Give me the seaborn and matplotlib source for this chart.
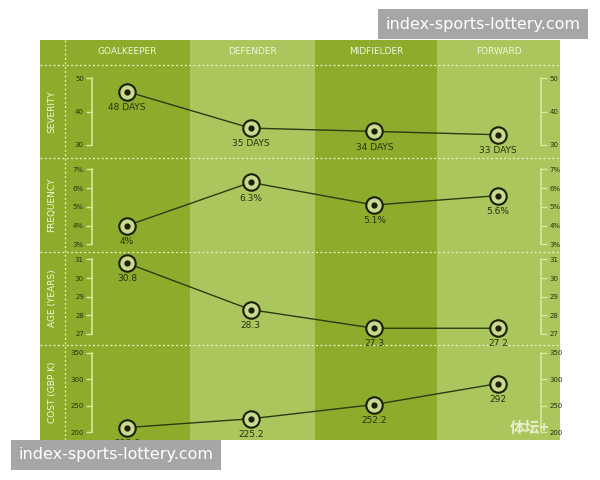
import matplotlib
matplotlib.use("Agg")
import matplotlib.pyplot as plt
import seaborn as sns
import pandas as pd

positions = ["GOALKEEPER", "DEFENDER", "MIDFIELDER", "FORWARD"]
row_names = ["SEVERITY", "FREQUENCY", "AGE (YEARS)", "COST (GBP K)"]
severity = [46, 35, 34, 33]
severity_labels = ["48 DAYS", "35 DAYS", "34 DAYS", "33 DAYS"]
frequency = [4.0, 6.3, 5.1, 5.6]
frequency_labels = ["4%", "6.3%", "5.1%", "5.6%"]
age = [30.8, 28.3, 27.3, 27.3]
age_labels = ["30.8", "28.3", "27.3", "27.2"]
cost = [208.6, 225.2, 252.2, 292]
cost_labels = ["208.6", "225.2", "252.2", "292"]
ticks = [[30, 40, 50], [3, 4, 5, 6, 7], [27, 28, 29, 30, 31], [200, 250, 300, 350]]
tick_labels = [["30", "40", "50"], ["3%", "4%", "5%", "6%", "7%"],
               ["27", "28", "29", "30", "31"], ["200", "250", "300", "350"]]
ylims = [(26, 54), (2.6, 7.6), (26.4, 31.4), (185, 365)]

sns.set_theme(style="white")
plt.rcParams['font.family'] = ['DejaVu Sans', 'Noto Sans CJK SC']

W, H = 600, 480
fig = plt.figure(figsize=(6, 4.8), dpi=100)
fig.patch.set_facecolor("white")
dark, light = "#8dac2c", "#aac65c"
lc = "#dbe99a"

def fx(x): return x / W
def fy(y): return 1 - y / H

bg = fig.add_axes([fx(40), fy(440), fx(520), (400) / H])
bg.set_xlim(40, 560); bg.set_ylim(440, 40); bg.axis("off")
bg.axvspan(40, 65, color=dark, lw=0)
cols = [(65, 190, dark), (190, 315, light), (315, 437, dark), (437, 560, light)]
for (a, b, c), name in zip(cols, positions):
    bg.axvspan(a, b, color=c, lw=0)
    bg.text((a + b) / 2, 52, name, color="#f2f6dc", fontsize=6.5, ha="center", va="center")
for y in [65, 158, 252, 345]:
    bg.plot([40, 560], [y, y], ls=(0, (1.5, 2)), color="#eef4cc", lw=0.9)
bg.plot([65, 65], [40, 440], ls=(0, (1.5, 2)), color="#eef4cc", lw=0.9)

rows = [(65, 158), (158, 252), (252, 345), (345, 440)]
values = [severity, frequency, age, cost]
labels = [severity_labels, frequency_labels, age_labels, cost_labels]
for i, ((t, b), vals, labs) in enumerate(zip(rows, values, labels)):
    bg.text(52, (t + b) / 2, row_names[i], rotation=90, color="#f2f6dc", fontsize=6.5,
            ha="center", va="center")
    ax = fig.add_axes([fx(65), fy(b), fx(495), (b - t) / H])
    ax.patch.set_alpha(0)
    df = pd.DataFrame({"x": range(4), "y": vals})
    sns.lineplot(data=df, x="x", y="y", ax=ax, color="#2f3a12", lw=1)
    ax.scatter(df.x, df.y, s=140, facecolor="#c9d98e", edgecolor="#1a1f08", lw=1.5, zorder=3)
    ax.scatter(df.x, df.y, s=12, color="#1a1f08", zorder=4)
    for x, y, l in zip(df.x, df.y, labs):
        ax.annotate(l, (x, y), xytext=(0, -8), textcoords="offset points", ha="center",
                    va="top", fontsize=6.5, color="#2a3210", annotation_clip=False)
    ax.set_xlim(-0.5, 3.5)
    ax.set_ylim(*ylims[i])
    ax.set_xlabel(""); ax.set_ylabel("")
    ax.set_xticks([])
    ax.set_yticks(ticks[i]); ax.set_yticklabels(tick_labels[i])
    ax.tick_params(axis="y", left=True, right=True, labelleft=True, labelright=True,
                   direction="out", length=4, width=1, color=lc, labelsize=5, labelcolor="#2a3210", pad=2)
    for s in ["top", "bottom"]:
        ax.spines[s].set_visible(False)
    ax.spines["left"].set_position(("axes", 0.055))
    ax.spines["right"].set_position(("axes", 0.962))
    for s in ["left", "right"]:
        ax.spines[s].set_color(lc); ax.spines[s].set_linewidth(1.2)
        ax.spines[s].set_bounds(ticks[i][0], ticks[i][-1])

fig.text(fx(483), fy(24), "index-sports-lottery.com", fontsize=11.5, color="white",
         ha="center", va="center", zorder=10,
         bbox=dict(boxstyle="square,pad=0.45", fc="#a6a6a6", ec="none"))
fig.text(fx(116), fy(455), "index-sports-lottery.com", fontsize=11.5, color="white",
         ha="center", va="center", zorder=10,
         bbox=dict(boxstyle="square,pad=0.45", fc="#a6a6a6", ec="none"))
fig.text(fx(530), fy(428), "体坛+", fontsize=11, color="#e8efcf", ha="center", va="center",
         fontweight="bold", family=['Noto Sans CJK SC', 'DejaVu Sans'])

fig.savefig("out.png", dpi=100)
